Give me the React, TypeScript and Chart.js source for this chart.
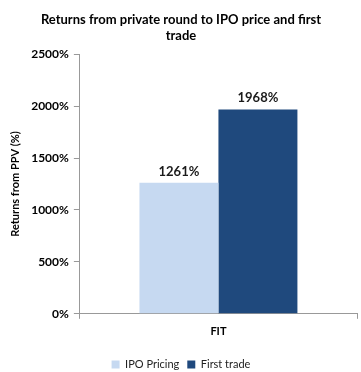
import React, { useEffect, useRef } from "react";
import { Chart, registerables } from "chart.js";

Chart.register(...registerables);

const categories = ["FIT"];
const ipoPricing = [1261];
const firstTrade = [1968];
const yTicks = [0, 500, 1000, 1500, 2000, 2500];

const FONT = "Lato, 'Open Sans', sans-serif";

const labelPlugin = {
  id: "valueLabels",
  afterDatasetsDraw(chart: any) {
    const ctx = chart.ctx;
    ctx.save();
    ctx.font = `bold 13px ${FONT}`;
    ctx.fillStyle = "#1a1a1a";
    ctx.textAlign = "center";
    ctx.textBaseline = "bottom";
    chart.data.datasets.forEach((ds: any, i: number) => {
      const meta = chart.getDatasetMeta(i);
      meta.data.forEach((bar: any, j: number) => {
        ctx.fillText(`${ds.data[j]}%`, bar.x, bar.y - 5);
      });
    });
    ctx.restore();
  },
};

export default function App() {
  const ref = useRef<HTMLCanvasElement>(null);
  useEffect(() => {
    const chart = new Chart(ref.current!, {
      type: "bar",
      data: {
        labels: categories,
        datasets: [
          { label: "IPO Pricing", data: ipoPricing, backgroundColor: "#C6D9F1", barPercentage: 1, categoryPercentage: 0.57 },
          { label: "First trade", data: firstTrade, backgroundColor: "#1F497D", barPercentage: 1, categoryPercentage: 0.57 },
        ],
      },
      options: {
        animation: false,
        responsive: false,
        layout: { padding: { left: 5, right: 4, top: 0, bottom: -8 } },
        plugins: {
          title: {
            display: true,
            text: ["Returns from private round to IPO price and first", "trade"],
            font: { family: FONT, size: 13, weight: "bold" },
            color: "#000",
            padding: { top: 12, bottom: 11 },
          },
          legend: {
            position: "bottom",
            labels: { boxWidth: 8, boxHeight: 8, font: { family: FONT, size: 11 }, color: "#222", padding: 8 },
          },
          tooltip: { enabled: false },
        },
        scales: {
          x: {
            grid: { drawOnChartArea: false, drawTicks: true, tickLength: 5, color: "#999", offset: true },
            border: { color: "#999" },
            ticks: { font: { family: FONT, size: 11, weight: "bold" }, color: "#000", padding: 6 },
            afterFit: (s: any) => { s.height += 7; },
          },
          y: {
            min: 0,
            max: 2500,
            afterBuildTicks: (axis: any) => { axis.ticks = yTicks.map((v) => ({ value: v })); },
            grid: { drawOnChartArea: false, drawTicks: true, tickLength: 6, color: "#999" },
            border: { color: "#999" },
            ticks: { font: { family: FONT, size: 12, weight: "bold" }, color: "#000", callback: (v: any) => `${v}%`, padding: 5 },
            title: { display: true, text: "Returns from PPV (%)", font: { family: FONT, size: 11, weight: "bold" }, color: "#000" },
          },
        },
      },
      plugins: [labelPlugin],
    });
    return () => chart.destroy();
  }, []);
  return (
    <div style={{ position: "fixed", left: 0, top: 0, width: 361, height: 372, background: "#fff" }}>
      <canvas ref={ref} width={361} height={372} />
    </div>
  );
}
